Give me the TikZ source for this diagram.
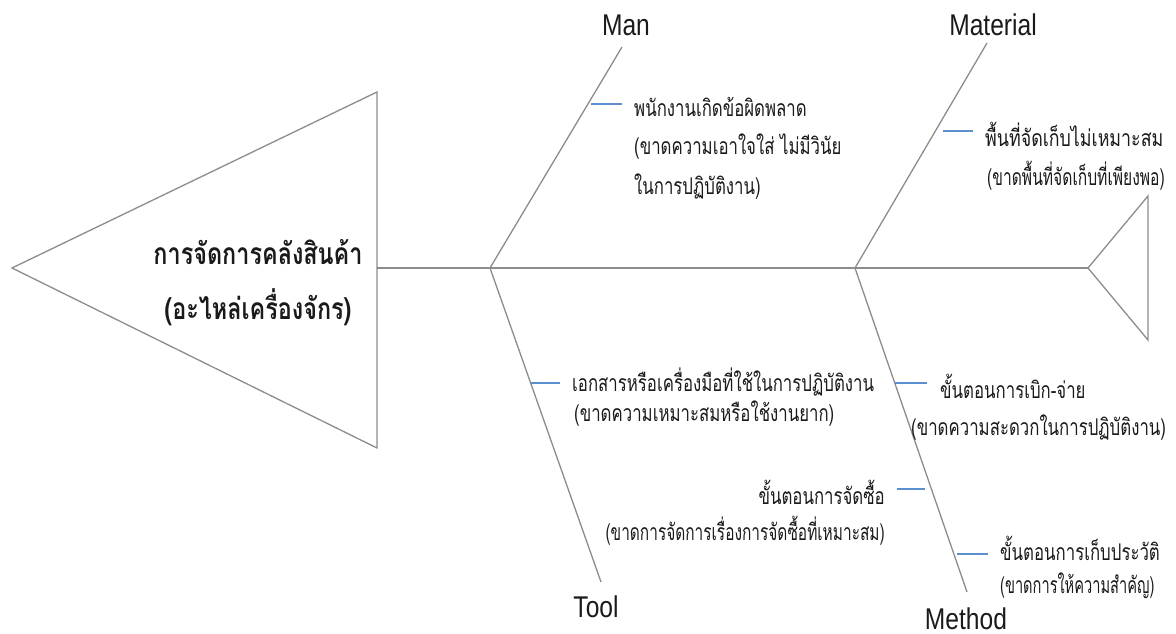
\documentclass[tikz,border=0pt]{standalone}
\usepackage{fontspec}
\newfontfamily\thaif[Script=Thai,FakeStretch=0.73]{Loma}
\newfontfamily\thaib[Script=Thai,FakeStretch=0.78,UprightFont=* Bold]{Loma}
\newfontfamily\labf[FakeStretch=0.82]{Liberation Sans}
\definecolor{bone}{HTML}{8C8C8C}
\definecolor{sub}{HTML}{5B8FD0}
\definecolor{ink}{HTML}{1A1A1A}
\tikzset{
  bone/.style={draw=bone,line width=1.3pt},
  subln/.style={draw=sub,line width=1.3pt},
  txt/.style={inner sep=0pt,text=ink,font=\thaif\fontsize{23}{28}\selectfont},
  ttl/.style={inner sep=0pt,text=ink,font=\thaib\fontsize{30}{36}\selectfont},
  lab/.style={inner sep=0pt,text=ink,font=\labf\fontsize{30}{36}\selectfont}
}
\begin{document}
\begin{tikzpicture}[x=1pt,y=-1pt]
\useasboundingbox (0,0) rectangle (1176,634);
% head and tail
\coordinate (hT) at (12,268);
\coordinate (hA) at (377,92);
\coordinate (hB) at (377,448);
\draw[bone] (hT) -- (hA) -- (hB) -- cycle;
\coordinate (tT) at (1088,268);
\coordinate (tA) at (1148,196);
\coordinate (tB) at (1148,340);
\draw[bone] (tA) -- (tT) -- (tB) -- cycle;
% spine
\coordinate (s1) at (377,268);
\coordinate (j1) at (490,268);
\coordinate (j2) at (855,268);
\draw[bone] (s1) -- (tT);
% bones
\coordinate (manE) at (622,47);
\coordinate (toolE) at (601,582);
\coordinate (matE) at (987,43);
\coordinate (metE) at (967,592);
\draw[bone] (j1) -- (manE);
\draw[bone] (j1) -- (toolE);
\draw[bone] (j2) -- (matE);
\draw[bone] (j2) -- (metE);
% labels
\node[lab] (man) at (626,25) {Man};
\node[lab] (mat) at (993,25) {Material};
\node[lab] (tool) at (596,607) {Tool};
\node[lab] (met) at (966,619) {Method};
% title
\node[ttl] (t1) at (258,252) {การจัดการคลังสินค้า};
\node[ttl] (t2) at (258,307) {(อะไหล่เครื่องจักร)};
% Man causes
\node[txt,anchor=west] (m1) at (634,107) {พนักงานเกิดข้อผิดพลาด};
\node[txt,anchor=west] (m2) at (634,147) {(ขาดความเอาใจใส่ ไม่มีวินัย};
\node[txt,anchor=west] (m3) at (634,187) {ในการปฏิบัติงาน)};
\coordinate (bm1) at (591,104);
\coordinate (bm2) at (622,104);
\draw[subln] (bm1) -- (bm2);
% Material causes
\node[txt,anchor=west,xscale=1.06] (a1) at (985,134) {พื้นที่จัดเก็บไม่เหมาะสม};
\node[txt,anchor=west,xscale=0.93] (a2) at (987,176) {(ขาดพื้นที่จัดเก็บที่เพียงพอ)};
\coordinate (ba1) at (943,131);
\coordinate (ba2) at (973,131);
\draw[subln] (ba1) -- (ba2);
% Tool causes
\node[txt,anchor=west] (o1) at (572,382) {เอกสารหรือเครื่องมือที่ใช้ในการปฏิบัติงาน};
\node[txt,anchor=west] (o2) at (574,414) {(ขาดความเหมาะสมหรือใช้งานยาก)};
\coordinate (bo1) at (531,383);
\coordinate (bo2) at (560,383);
\draw[subln] (bo1) -- (bo2);
% Method causes
\node[txt,anchor=west] (e1) at (940,386) {ขั้นตอนการเบิก-จ่าย};
\node[txt,anchor=west] (e2) at (911,428) {(ขาดความสะดวกในการปฏิบัติงาน)};
\coordinate (be1) at (895,383);
\coordinate (be2) at (927,383);
\draw[subln] (be1) -- (be2);
\node[txt,anchor=east] (f1) at (885,492) {ขั้นตอนการจัดซื้อ};
\node[txt,anchor=east,xscale=0.92] (f2) at (885,531) {(ขาดการจัดการเรื่องการจัดซื้อที่เหมาะสม)};
\coordinate (bf1) at (897,489);
\coordinate (bf2) at (925,489);
\draw[subln] (bf1) -- (bf2);
\node[txt,anchor=west] (g1) at (1000,548) {ขั้นตอนการเก็บประวัติ};
\node[txt,anchor=west,xscale=0.87] (g2) at (1000,586) {(ขาดการให้ความสำคัญ)};
\coordinate (bg1) at (957,554);
\coordinate (bg2) at (988,554);
\draw[subln] (bg1) -- (bg2);
\end{tikzpicture}
\end{document}
